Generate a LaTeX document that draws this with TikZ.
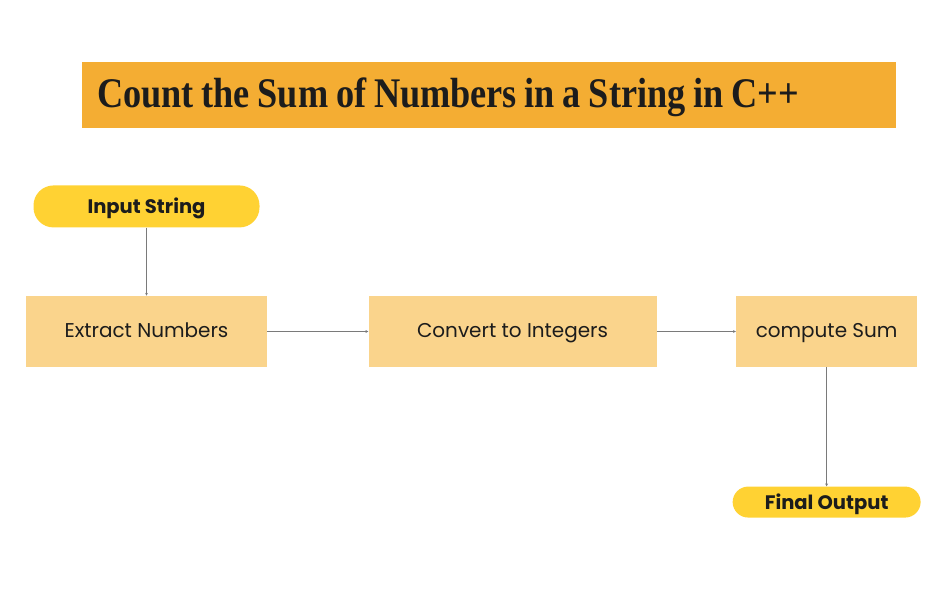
\documentclass[tikz,border=0pt]{standalone}
\usepackage{fontspec}
\usepackage{xcolor}
\usepackage{tikz}
\usetikzlibrary{shapes,arrows.meta,positioning}
\newfontfamily\boxfont{Poppins}
\newfontfamily\titlefont[FakeStretch=0.86]{Liberation Serif}
\definecolor{titleorange}{HTML}{F4AD33}
\definecolor{pillyellow}{HTML}{FFD233}
\definecolor{boxorange}{HTML}{FAD48C}
\definecolor{inkdark}{HTML}{1C1C1C}
\definecolor{linegray}{HTML}{7A7A7A}

\begin{document}
\begin{tikzpicture}[auto,
    block/.style={rectangle, fill=boxorange, text=inkdark, text centered, minimum height=1.775cm, text height=1em, text depth=0.1em, font=\boxfont\fontsize{14.2}{17}\selectfont},
    pill/.style={rectangle, rounded corners=0.5cm, fill=pillyellow, text=inkdark, text centered, text height=1.05em, text depth=0.05em, font=\boxfont\bfseries\fontsize{13.9}{17}\selectfont},
    banner/.style={rectangle, fill=titleorange, text=inkdark, minimum width=20.35cm, minimum height=1.65cm, text width=19.6cm, align=left, inner xsep=0.375cm, font=\titlefont\bfseries\fontsize{30}{36}\selectfont},
    line/.style={draw=linegray, line width=0.5pt, -{Stealth[length=2pt, width=2pt]}}]

    \useasboundingbox (0,0) rectangle (23.5,-15.15);

    \node [banner] (title) at (12.225,-2.375) {\spaceskip=0.185em plus 0pt minus 0pt \raisebox{-9pt}[0pt][0pt]{Count the Sum of Numbers in a String in C++}};

    \node [block, minimum width=6.025cm] (extract) at (3.6625,-8.2875) {Extract Numbers};
    \node [block, minimum width=7.2cm, right=2.525cm of extract] (convert) {Convert to Integers};
    \node [block, minimum width=4.525cm, right=1.975cm of convert] (compute) {compute Sum};

    \node [pill, minimum width=5.65cm, minimum height=1.05cm, above=1.7cm of extract] (input) {Input String};
    \node [pill, minimum width=4.7cm, minimum height=0.775cm, rounded corners=0.39cm, below=2.975cm of compute] (output) {Final Output};

    \path [line] (input) -- (extract);
    \path [line] (extract) -- (convert);
    \path [line] (convert) -- (compute);
    \path [line] (compute) -- (output);
\end{tikzpicture}
\end{document}
